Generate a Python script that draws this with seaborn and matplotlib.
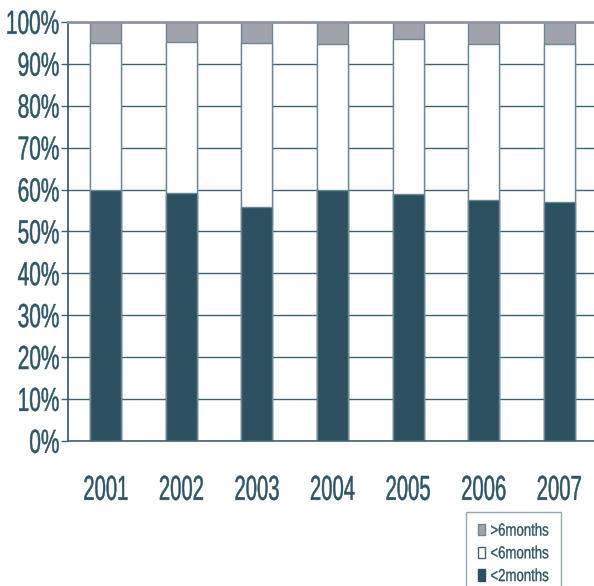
import matplotlib
matplotlib.use("Agg")
import matplotlib.pyplot as plt
from matplotlib import patheffects
from matplotlib.patches import Patch
from matplotlib.transforms import Affine2D
from matplotlib.ticker import FixedLocator
import pandas as pd
import seaborn as sns

# Share of cases by duration, per year (percent)
years = ["2001", "2002", "2003", "2004", "2005", "2006", "2007"]
under_2_months = [59.8, 59.3, 55.8, 59.8, 58.9, 57.4, 57.0]
under_6_months = [35.1, 35.9, 39.1, 35.0, 37.0, 37.4, 37.8]
over_6_months = [5.1, 4.8, 5.1, 5.2, 4.1, 5.2, 5.2]
legend_labels = [">6months", "<6months", "<2months"]
y_ticks = [0, 10, 20, 30, 40, 50, 60, 70, 80, 90, 100]
y_tick_labels = [f"{v}%" for v in y_ticks]

DARK = "#2d5061"
GREY = "#a0a3ab"
TEXT = "#2e5465"
GRID = "#3f6373"
EDGE = "#6b8794"


class Tall(patheffects.AbstractPathEffect):
    """Stretch glyphs vertically about their centre for a condensed look,
    with a hairline outline to give the strokes some weight."""

    def __init__(self, sy, stroke=0.5):
        super().__init__()
        self.sy = sy
        self.stroke = stroke

    def draw_path(self, renderer, gc, tpath, affine, rgbFace=None):
        ext = tpath.get_extents()
        cy = 0.5 * (ext.y0 + ext.y1)
        t = Affine2D().translate(0, -cy).scale(1, self.sy).translate(0, cy) + affine
        gc0 = renderer.new_gc()
        gc0.copy_properties(gc)
        gc0.set_linewidth(self.stroke)
        gc0.set_foreground(rgbFace)
        renderer.draw_path(gc0, tpath, t, rgbFace)
        gc0.restore()


sns.set_style("white")
plt.rcParams["font.family"] = ["Liberation Sans", "DejaVu Sans"]

df = pd.DataFrame({
    "year": years,
    "lt2": under_2_months,
    "lt6": under_6_months,
    "gt6": over_6_months,
})
df["top_lt6"] = df["lt2"] + df["lt6"]
df["total"] = df["top_lt6"] + df["gt6"]

fig = plt.figure(figsize=(5.94, 5.86), dpi=100)
ax = fig.add_axes([68 / 594, 145 / 586, 529 / 594, 419 / 586])

bar_kw = dict(width=0.41, edgecolor=EDGE, linewidth=1.0, ax=ax)
sns.barplot(data=df, x="year", y="total", color=GREY, saturation=1, **bar_kw)
sns.barplot(data=df, x="year", y="top_lt6", color="white", saturation=1, **bar_kw)
sns.barplot(data=df, x="year", y="lt2", color=DARK, saturation=1, **bar_kw)

ax.set_xlim(-0.5, len(years) - 0.5)
ax.set_ylim(0, 100)
ax.set_xlabel("")
ax.set_ylabel("")

ax.set_yticks(y_ticks)
ax.set_yticklabels(y_tick_labels)
ax.set_axisbelow(True)
ax.yaxis.grid(True, color=GRID, linewidth=1.0)
ax.xaxis.grid(False)

ax.xaxis.set_minor_locator(FixedLocator([i - 0.5 for i in range(len(years) + 1)]))
ax.tick_params(axis="x", which="major", length=0, pad=28, labelsize=14.6, labelcolor=TEXT)
ax.tick_params(axis="x", which="minor", length=8, width=1, color="#7f97a3", direction="out")
ax.tick_params(axis="y", which="major", length=5, width=1, color=GRID, direction="out",
               pad=1, labelsize=15.0, labelcolor=TEXT, left=True)

for name, sp in ax.spines.items():
    sp.set_visible(name in ("left", "bottom", "top"))
ax.spines["left"].set_color(TEXT)
ax.spines["left"].set_linewidth(1.2)
ax.spines["bottom"].set_color(GRID)
ax.spines["bottom"].set_linewidth(1.2)
ax.spines["top"].set_color("#8d989e")
ax.spines["top"].set_linewidth(2.0)

for lab in ax.get_yticklabels():
    lab.set_path_effects([Tall(1.6, 0.35)])
for lab in ax.get_xticklabels():
    lab.set_path_effects([Tall(1.71, 0.35)])

handles = [
    Patch(facecolor=GREY, edgecolor=EDGE, linewidth=1),
    Patch(facecolor="white", edgecolor=GRID, linewidth=1),
    Patch(facecolor=DARK, edgecolor=DARK, linewidth=1),
]
leg = fig.legend(handles, legend_labels, loc="upper left",
                 bbox_to_anchor=(466 / 594, 1 - 512 / 586),
                 bbox_transform=fig.transFigure, borderaxespad=0,
                 fontsize=9.5, handlelength=0.55, handleheight=0.95,
                 handletextpad=0.4, labelspacing=0.72, borderpad=0.9,
                 fancybox=False, frameon=True)
leg.get_frame().set_edgecolor("#7d929c")
leg.get_frame().set_linewidth(1.0)
for t in leg.get_texts():
    t.set_color(TEXT)
    t.set_path_effects([Tall(1.32, 0.25)])

fig.savefig("out.png", dpi=100)
